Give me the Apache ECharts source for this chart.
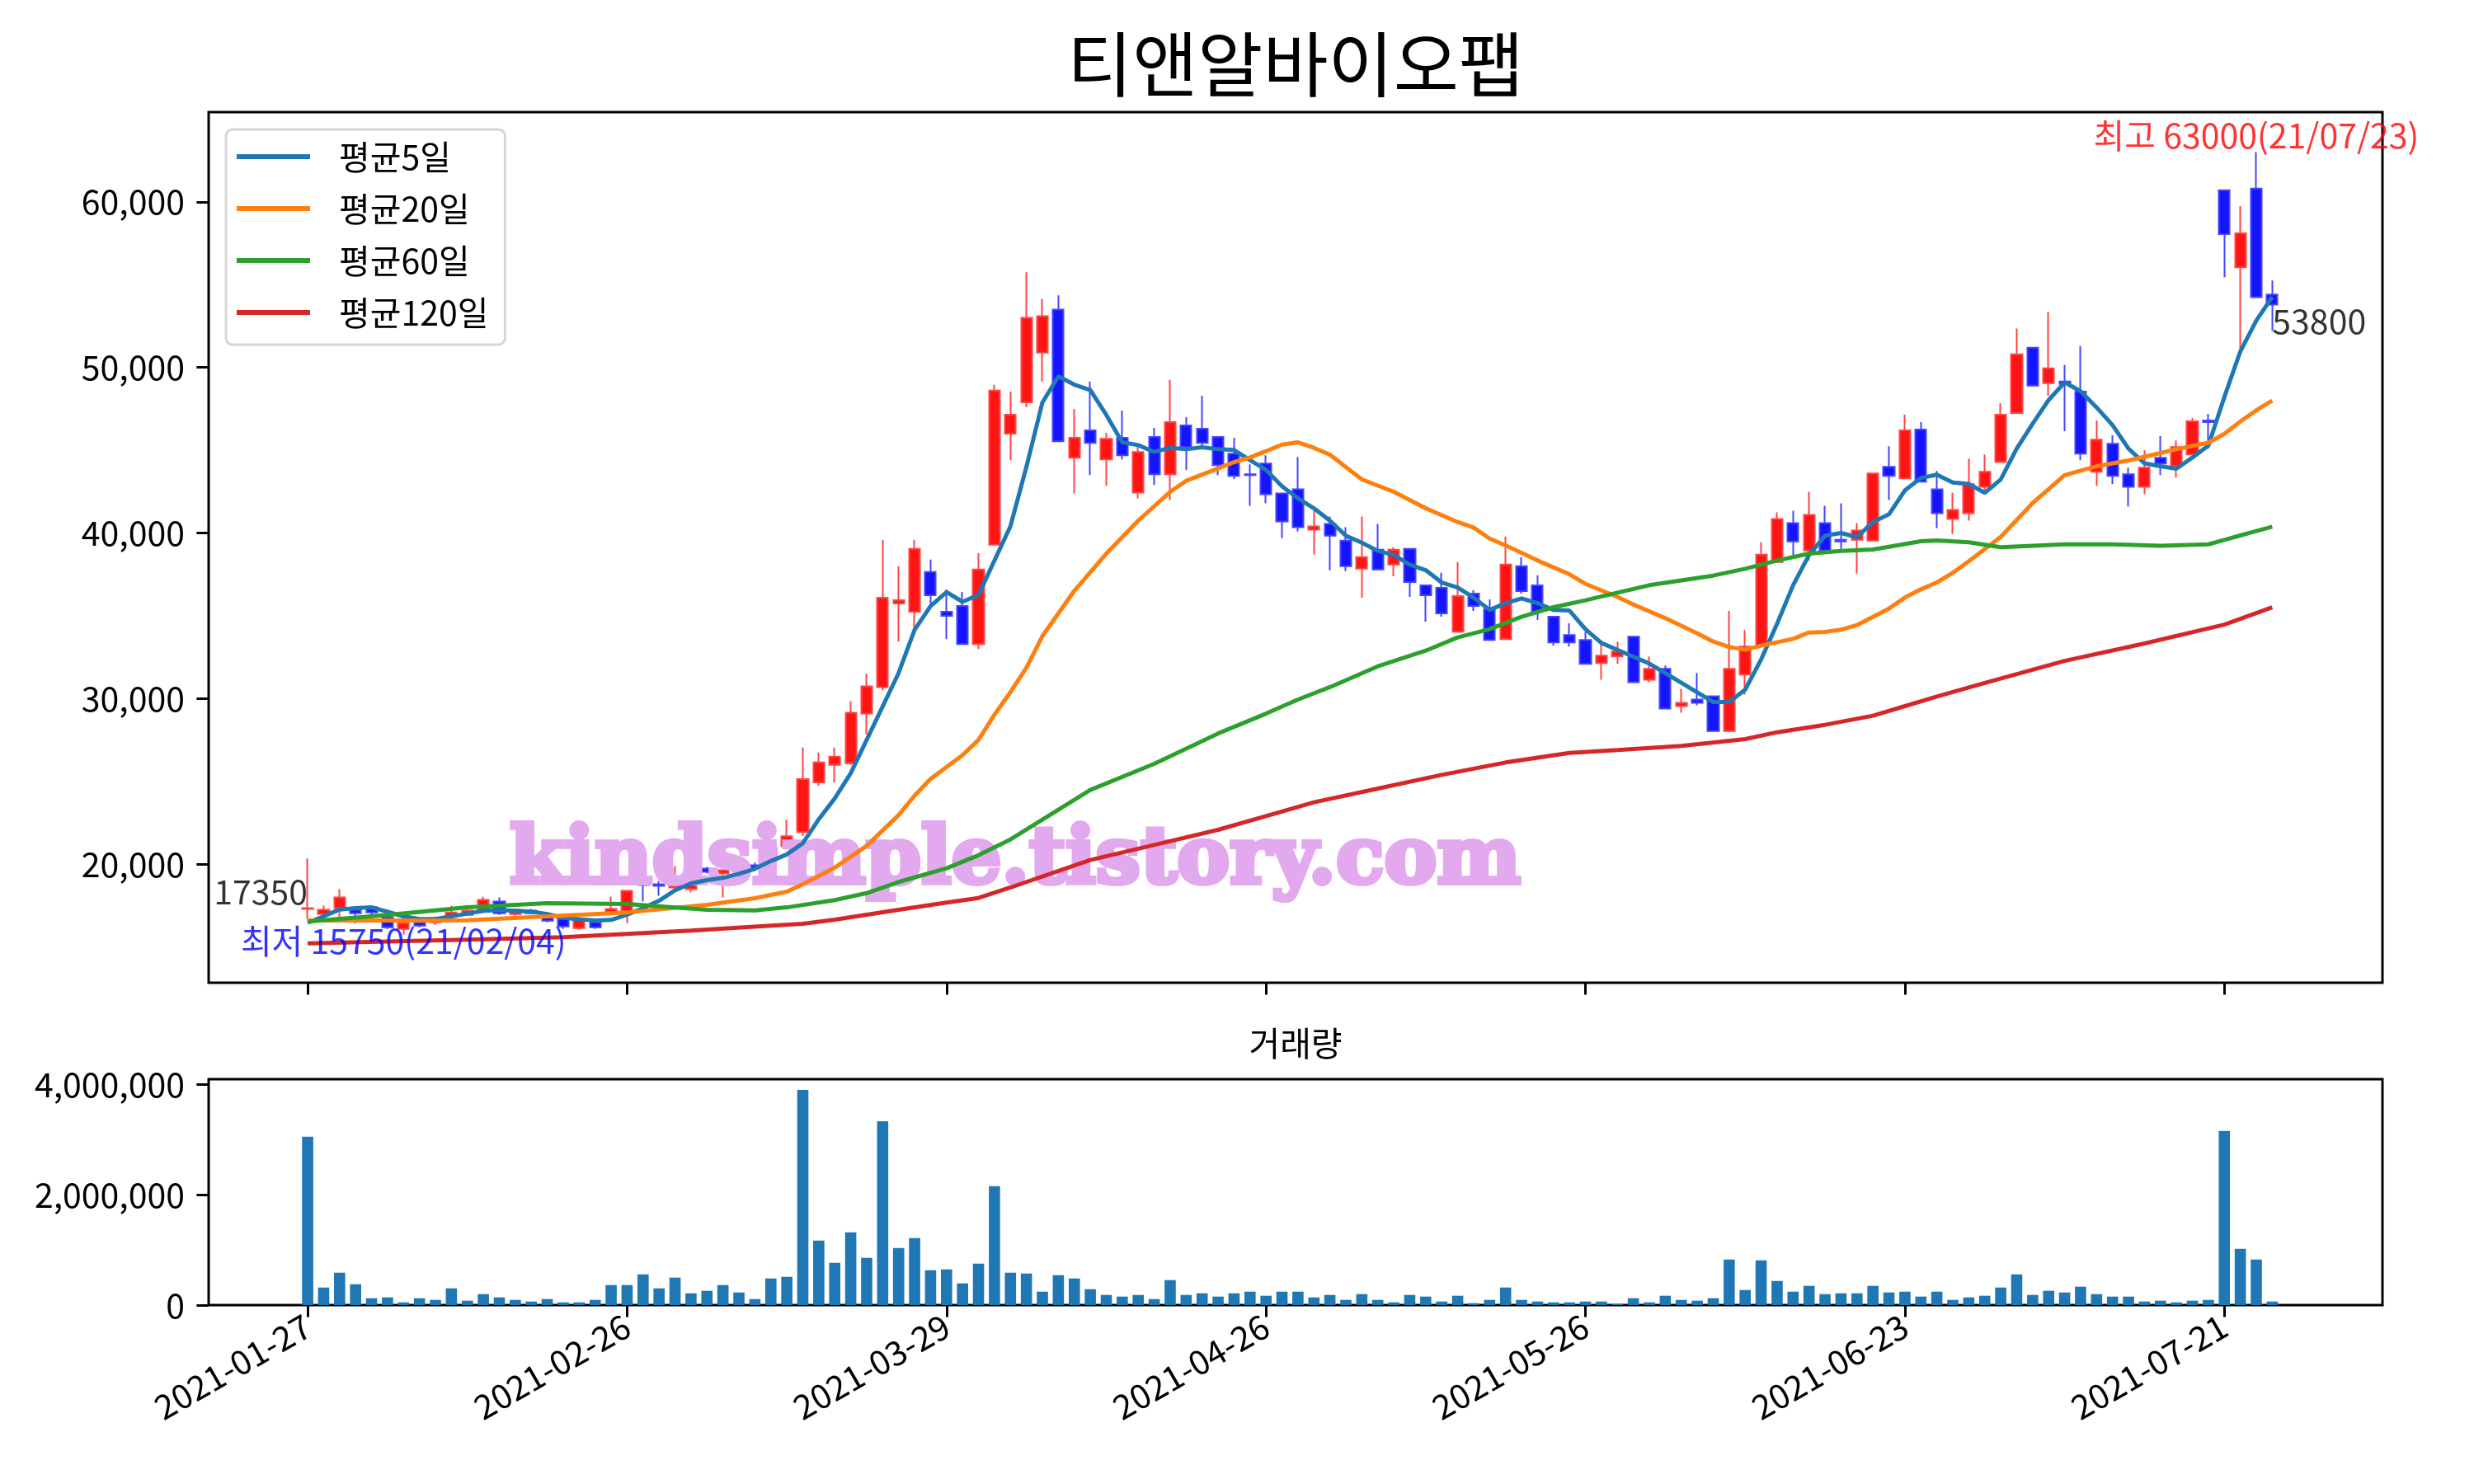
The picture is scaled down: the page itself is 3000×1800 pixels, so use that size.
<!DOCTYPE html>
<html>
<head>
<meta charset="utf-8">
<script src="https://cdn.jsdelivr.net/npm/echarts@6/dist/echarts.min.js"></script>
<style>html,body{margin:0;padding:0;background:#fff}#c{width:3000px;height:1800px}</style>
</head>
<body>
<div id="c"></div>
<script>
const title = '티앤알바이오팹';
const volTitle = '거래량';
const maNames = ['평균5일', '평균20일', '평균60일', '평균120일'];
const dates = [
'2021-01-27','2021-01-28','2021-01-29',
'2021-02-01','2021-02-02','2021-02-03','2021-02-04','2021-02-05','2021-02-08','2021-02-09','2021-02-10',
'2021-02-15','2021-02-16','2021-02-17','2021-02-18','2021-02-19','2021-02-22','2021-02-23','2021-02-24','2021-02-25','2021-02-26',
'2021-03-02','2021-03-03','2021-03-04','2021-03-05','2021-03-08','2021-03-09','2021-03-10','2021-03-11','2021-03-12',
'2021-03-15','2021-03-16','2021-03-17','2021-03-18','2021-03-19','2021-03-22','2021-03-23','2021-03-24','2021-03-25','2021-03-26',
'2021-03-29','2021-03-30','2021-03-31',
'2021-04-01','2021-04-02','2021-04-05','2021-04-06','2021-04-07','2021-04-08','2021-04-09',
'2021-04-12','2021-04-13','2021-04-14','2021-04-15','2021-04-16','2021-04-19','2021-04-20','2021-04-21','2021-04-22','2021-04-23',
'2021-04-26','2021-04-27','2021-04-28','2021-04-29','2021-04-30',
'2021-05-03','2021-05-04','2021-05-06','2021-05-07','2021-05-10','2021-05-11','2021-05-12','2021-05-13','2021-05-14',
'2021-05-17','2021-05-18','2021-05-20','2021-05-21','2021-05-24','2021-05-25','2021-05-26','2021-05-27','2021-05-28','2021-05-31',
'2021-06-01','2021-06-02','2021-06-03','2021-06-04','2021-06-07','2021-06-08','2021-06-09','2021-06-10','2021-06-11',
'2021-06-14','2021-06-15','2021-06-16','2021-06-17','2021-06-18','2021-06-21','2021-06-22','2021-06-23','2021-06-24','2021-06-25',
'2021-06-28','2021-06-29','2021-06-30',
'2021-07-01','2021-07-02','2021-07-05','2021-07-06','2021-07-07','2021-07-08','2021-07-09',
'2021-07-12','2021-07-13','2021-07-14','2021-07-15','2021-07-16','2021-07-19','2021-07-20','2021-07-21','2021-07-22','2021-07-23',
'2021-07-26'
];
const opens = [17300,17000,17350,17250,17400,16800,16100,16500,16500,16850,
16950,17150,17750,17000,17200,16800,16700,16150,16500,17100,
17150,18900,18800,18600,18500,19750,19450,19700,19950,20200,
21100,21950,24950,26000,26100,29100,30700,35750,35250,37650,
35250,35600,33300,39300,46000,47900,50900,53500,44550,46200,
44450,45750,42450,45800,43550,46500,46300,45800,44800,43550,
44200,42400,42650,40200,40550,39550,37850,39000,38100,39050,
36850,36700,34050,36350,35400,33600,38000,36850,34950,33850,
33550,32150,32550,33750,31150,31800,29550,29950,30150,28050,
31450,33200,38250,40600,38950,40600,39600,39600,39550,44000,
43300,46250,42650,40850,41200,42800,44300,47250,51200,49050,
49150,48550,43700,45400,43550,42800,44550,44050,44750,46800,
60700,56050,60800,54400];
const closes = [17350,17250,18000,17050,17100,16200,16450,16300,16700,17100,
17200,17850,17050,17250,17050,16600,16250,16650,16200,17300,
18400,18750,18700,19000,18750,19550,19650,19900,19800,21000,
21700,25150,26150,26500,29150,30750,36100,35950,39050,36250,
35000,33300,37800,48600,47150,53000,53100,45550,45750,45450,
45700,44700,44900,43550,46700,45200,45450,44100,43450,43500,
42350,40700,40350,40400,39850,38000,38550,37800,39000,37050,
36250,35150,36200,35600,33550,38100,36500,35250,33400,33400,
32100,32600,32850,31000,31800,29400,29750,29750,28050,31800,
33150,38700,40850,39500,41100,38950,39500,40150,43600,43450,
46200,43100,41200,41400,42950,43700,47150,50800,48900,49950,
49000,44800,45650,43450,42800,43950,44200,45200,46750,46700,
58050,58100,54250,53800];
const lows = [16700,16550,16800,16450,16900,16100,15750,16200,16350,16600,
16900,17100,16950,16900,17000,16500,16100,16050,16100,17100,
16450,17750,18100,18450,18300,19450,18000,19500,19700,20000,
21000,21700,24750,24950,26000,27850,30500,33450,33850,35700,
33600,33250,33000,39300,44400,47600,49150,45550,42400,43500,
42850,44450,42100,42900,42000,43800,45300,43500,43250,41650,
41800,39700,40100,38700,37750,37700,36100,37750,37400,36150,
34650,34950,34050,35300,33550,33600,36350,34750,33200,33150,
32050,31150,32100,31000,31000,29400,29150,29600,28050,28050,
30250,33200,38250,38600,38350,38950,38950,37550,39500,42000,
43300,43100,40300,39950,40750,42600,44300,47250,48900,48300,
46150,44400,42850,42950,41600,42350,43500,43350,44750,45100,
55450,50950,54250,52200];
const highs = [20350,17500,18500,17300,17500,16850,16600,16700,16850,17500,
17350,18050,18000,17300,17300,16950,16850,16750,16550,18050,
18400,19000,19000,19900,19000,19850,19700,20200,20100,21100,
22700,27050,26750,27050,29850,31500,39600,38000,39600,38400,
36600,36450,38800,48950,48550,55750,54150,54350,47500,49150,
46050,47400,45400,46350,49250,47000,48300,45850,45750,44150,
44700,42400,44600,41350,41000,40350,41000,40550,39150,39050,
36850,37600,38250,36550,36000,39800,38550,37450,34950,34550,
34050,33500,33450,33750,32550,32000,30600,31550,30200,35300,
34150,39450,41250,41350,42500,41650,41800,40600,43600,45250,
47150,46700,43750,42450,44500,44750,47850,52350,51200,53350,
50150,51300,46800,45900,43950,45000,45850,45600,46950,47200,
60700,59750,63000,55250];
const volumes = [3054579,318900,588000,378700,124600,139500,49800,124600,94700,304000,
79700,199300,139500,94700,64800,109600,49800,49800,94700,363800,
363800,558100,304000,498300,214300,259100,363800,229200,109600,483400,
513300,3906700,1171000,767400,1320500,857100,3338600,1036500,1215900,632800,
647800,393700,752400,2157600,588000,573000,244200,543100,483400,289000,
184400,154500,184400,109600,453500,184400,214300,154500,214300,244200,
169400,244200,244200,139500,184400,94700,199300,94700,49800,184400,
154500,64800,169400,34900,94700,318900,94700,64800,49800,49800,
64800,64800,19900,124600,49800,169400,94700,79700,124600,827200,
274100,812200,438500,244200,348800,199300,214300,214300,348800,229200,
244200,154500,244200,94700,139500,169400,318900,558100,184400,259100,
229200,333900,199300,154500,154500,64800,79700,49800,79700,94700,
3159200,1021500,827200,64800];
const ma5 = [16476,16858,17273,17356,17405,17140,16858,16692,16692,16858,
17024,17190,17240,17190,17140,17000,16775,16680,16609,16642,
16960,17350,17800,18434,18850,19050,19180,19430,19730,20200,
20600,21270,22721,23983,25498,27518,29537,31557,34165,35596,
36438,35849,36269,38346,40420,44000,47887,49463,48965,48634,
47140,45481,45315,44900,45149,45066,45182,45066,45016,44402,
43821,42826,42100,41498,40751,39839,39424,38926,38677,38097,
37765,37018,36719,36105,35359,35773,36056,35773,35359,35325,
34197,33368,32950,32539,32124,31543,30963,30382,29801,29801,
30548,32373,34530,36853,38678,39840,40006,39757,40670,41134,
42578,43324,43530,43057,42968,42435,43235,45101,46613,48035,
49101,48568,47590,46523,45101,44212,44035,43893,44568,45279,
48212,50969,52835,54258];
// [day index, value] points for the smoother averages
const ma20 = [[0,16609],[7,16609],[10,16620],[15,16858],[20,17100],[25,17550],[28,17950],[30,18350],[31,18800],[33,19800],
[35,21122],[37,22974],[38,24152],[39,25162],[41,26592],[42,27518],[43,29033],[44,30400],[45,31874],[46,33783],
[48,36520],[50,38761],[52,40752],[54,42494],[55,43158],[57,43905],[58,44286],[59,44568],[60,44950],[61,45348],
[62,45480],[63,45150],[64,44734],[66,43241],[68,42494],[70,41498],[72,40668],[73,40337],[74,39673],[75,39258],
[77,38346],[79,37516],[80,36935],[82,36150],[83,35691],[85,34861],[87,33949],[88,33451],[89,33120],[90,32954],
[91,33203],[93,33617],[94,33999],[95,34032],[96,34165],[97,34447],[98,34945],[99,35442],[100,36106],[101,36604],
[102,37019],[103,37600],[104,38300],[106,39768],[108,41812],[110,43501],[111,43768],[112,44035],[114,44390],[116,44835],
[117,45066],[119,45457],[120,45991],[121,46737],[122,47413],[123,48000]];
const ma60 = [[0,16550],[5,16950],[10,17400],[15,17650],[20,17600],[25,17250],[28,17220],[30,17400],[33,17841],[35,18261],
[37,18935],[40,19762],[42,20550],[44,21504],[46,22700],[49,24491],[53,26067],[57,27900],[60,29100],[62,29950],
[64,30700],[67,31958],[70,32900],[72,33700],[74,34197],[76,34944],[78,35525],[80,35940],[82,36400],[84,36853],
[88,37434],[90,37849],[92,38346],[94,38761],[96,38927],[98,39010],[99,39176],[101,39508],[102,39560],[104,39447],
[106,39145],[108,39234],[110,39323],[113,39323],[116,39234],[119,39323],[120,39590],[121,39857],[122,40124],[123,40390]];
const ma120 = [[0,15232],[10,15448],[16,15600],[24,16000],[29,16300],[31,16410],[33,16662],[37,17252],[40,17687],[42,17970],
[44,18600],[46,19264],[49,20260],[53,21172],[57,22085],[60,22914],[63,23744],[67,24574],[71,25403],[75,26150],
[79,26731],[82,26900],[86,27146],[90,27560],[92,27975],[95,28424],[98,28972],[100,29552],[102,30133],[105,30952],
[110,32286],[115,33333],[120,34476],[123,35524]];
const priceTicks = [20000, 30000, 40000, 50000, 60000];
const volTicks = [0, 2000000, 4000000];
const dateTicks = [0, 20, 40, 60, 80, 100, 120];
const firstClose = 17350, lastClose = 53800;
const lowVal = 15750, lowIdx = 6, highVal = 63000, highIdx = 122;

const FONT = '"Noto Sans CJK KR", "Noto Sans", sans-serif';
const fmt = v => Number(v).toLocaleString('en-US');
const candleData = opens.map((o, i) => [i, o, closes[i], lows[i], highs[i]]);
const volData = volumes.map((v, i) => [i, v]);
const ma5Data = ma5.map((v, i) => [i, v]);
const n = dates.length;
const lastIdx = n - 1;
const md = s => s.slice(2).replace(/-/g, '/');

const chart = echarts.init(document.getElementById('c'), null, {width: 3000, height: 1800});
const xCommon = {
  type: 'value', min: -6.2, max: 129.9,
  splitLine: {show: false},
  axisLine: {show: false, onZero: false},
  axisTick: {show: true, inside: false, length: 14.6, lineStyle: {color: '#000', width: 3}, customValues: dateTicks},
};
const yCommon = {
  type: 'value', splitLine: {show: false}, axisLine: {show: false, onZero: false},
  axisTick: {show: true, inside: false, length: 14.6, lineStyle: {color: '#000', width: 3}},
  axisLabel: {color: '#000', fontSize: 41, fontFamily: FONT, margin: 29, formatter: fmt}
};
const option = {
  animation: false,
  backgroundColor: '#fff',
  grid: [
    {left: 253, top: 136, width: 2636, height: 1056, show: true, borderColor: '#000', borderWidth: 3, backgroundColor: 'transparent'},
    {left: 253, top: 1309, width: 2636, height: 274, show: true, borderColor: '#000', borderWidth: 3, backgroundColor: 'transparent'}
  ],
  xAxis: [
    Object.assign({}, xCommon, {gridIndex: 0, axisLabel: {show: false}}),
    Object.assign({}, xCommon, {gridIndex: 1, axisLabel: {show: true, customValues: dateTicks, rotate: 30, margin: 22,
      color: '#000', fontSize: 41, fontFamily: FONT, formatter: v => dates[v] || ''}})
  ],
  yAxis: [
    Object.assign({}, yCommon, {gridIndex: 0, min: 12850, max: 65420,
      axisTick: Object.assign({}, yCommon.axisTick, {customValues: priceTicks}),
      axisLabel: Object.assign({}, yCommon.axisLabel, {customValues: priceTicks})}),
    Object.assign({}, yCommon, {gridIndex: 1, min: 0, max: 4100000,
      axisTick: Object.assign({}, yCommon.axisTick, {customValues: volTicks}),
      axisLabel: Object.assign({}, yCommon.axisLabel, {customValues: volTicks})})
  ],
  legend: {
    data: maNames, orient: 'vertical', left: 274, top: 157, icon: 'rect', itemWidth: 89, itemHeight: 6,
    itemGap: 15, padding: [9, 20, 15, 13], borderColor: '#d6d6d6', borderWidth: 3, borderRadius: 8,
    backgroundColor: 'rgba(255,255,255,0.8)',
    textStyle: {fontSize: 41, fontFamily: FONT, color: '#000', lineHeight: 48, padding: [0, 0, 0, 30]}
  },
  graphic: [
    {type: 'text', x: 1571, y: 78, z: 10, style: {text: title, font: '86px ' + FONT, fill: '#000', align: 'center', verticalAlign: 'middle'}},
    {type: 'text', x: 1571, y: 1265, z: 10, style: {text: volTitle, font: '41px ' + FONT, fill: '#000', align: 'center', verticalAlign: 'middle'}},
    {type: 'text', x: 1231, y: 1046, z: 2, style: {text: 'kindsimple.tistory.com', font: 'bold 96px "DejaVu Serif", serif', fill: '#e3a9ef',
      stroke: '#e3a9ef', lineWidth: 6, align: 'center', verticalAlign: 'middle'}}
  ],
  series: [
    {type: 'candlestick', name: 'candle', xAxisIndex: 0, yAxisIndex: 0, data: candleData, barWidth: 13.6, z: 1, silent: true,
      itemStyle: {color: '#ff1414', color0: '#1414ff', borderColor: '#ff4444', borderColor0: '#4444ff', borderWidth: 2}},
    {type: 'line', name: maNames[0], xAxisIndex: 0, yAxisIndex: 0, data: ma5Data, showSymbol: false, symbol: 'none', z: 3,
      color: '#1f77b4', lineStyle: {width: 5, color: '#1f77b4'}},
    {type: 'line', name: maNames[1], xAxisIndex: 0, yAxisIndex: 0, data: ma20, showSymbol: false, symbol: 'none', z: 3,
      color: '#ff7f0e', lineStyle: {width: 5, color: '#ff7f0e'}},
    {type: 'line', name: maNames[2], xAxisIndex: 0, yAxisIndex: 0, data: ma60, showSymbol: false, symbol: 'none', z: 3,
      color: '#2ca02c', lineStyle: {width: 5, color: '#2ca02c'}},
    {type: 'line', name: maNames[3], xAxisIndex: 0, yAxisIndex: 0, data: ma120, showSymbol: false, symbol: 'none', z: 3,
      color: '#d62728', lineStyle: {width: 5, color: '#d62728'}},
    {type: 'bar', name: 'volume', xAxisIndex: 1, yAxisIndex: 1, data: volData, barWidth: 13.6, itemStyle: {color: '#1f77b4'}, silent: true},
    {type: 'scatter', name: 'notes', xAxisIndex: 0, yAxisIndex: 0, symbolSize: 0, silent: true, z: 6,
      label: {show: true, position: [0, 0], fontSize: 41, fontFamily: FONT},
      data: [
        {value: [0, firstClose], label: {formatter: String(firstClose), align: 'right', verticalAlign: 'bottom', color: '#000'}},
        {value: [lastIdx, lastClose], label: {formatter: String(lastClose), align: 'left', verticalAlign: 'top', color: '#000'}},
        {value: [lowIdx, lowVal], label: {formatter: '최저 ' + lowVal + '(' + md(dates[lowIdx]) + ')', align: 'center', verticalAlign: 'middle', offset: [0, 8], color: '#0000ff'}},
        {value: [highIdx, highVal], label: {formatter: '최고 ' + highVal + '(' + md(dates[highIdx]) + ')', align: 'center', verticalAlign: 'bottom', color: '#ff0000'}}
      ]}
  ]
};
chart.setOption(option);
</script>
</body>
</html>
